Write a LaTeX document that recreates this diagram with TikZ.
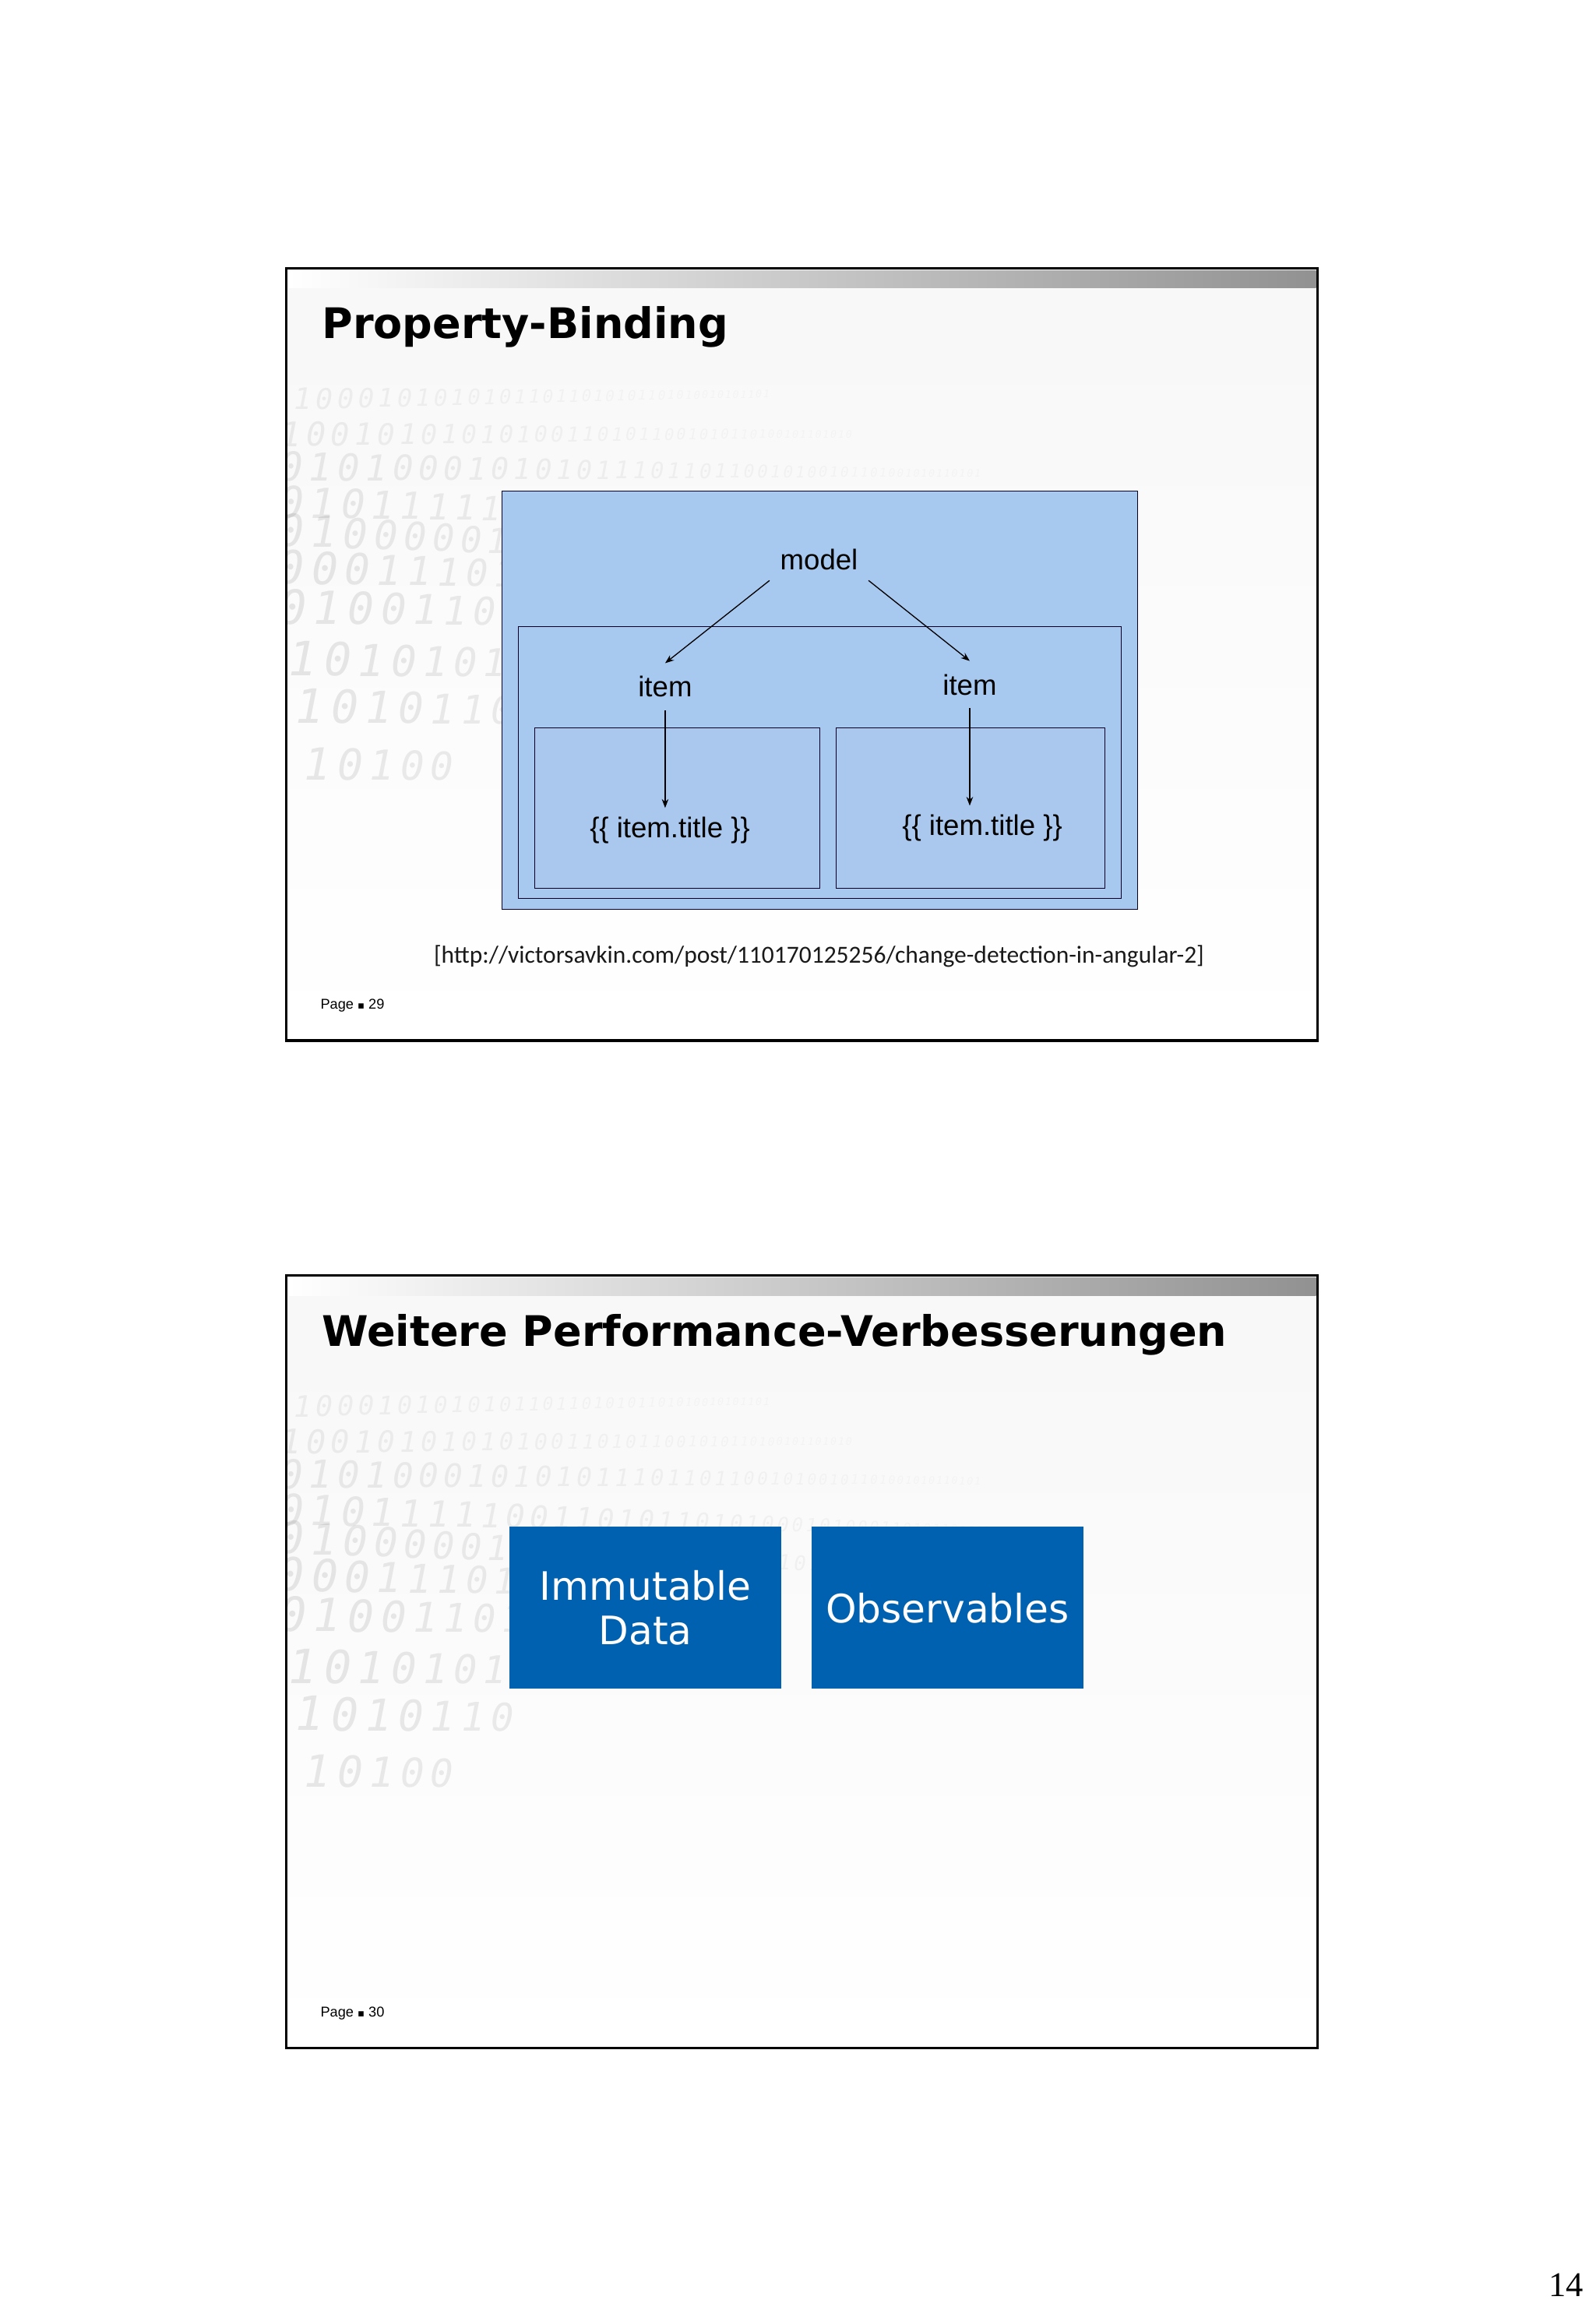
\documentclass[tikz,border=0pt]{standalone}
\usepackage{fontspec}
\usetikzlibrary{arrows.meta}
\newfontfamily\verd{DejaVu Sans}
\newfontfamily\arial{Liberation Sans}
\newfontfamily\cali{Carlito}
\newfontfamily\wmfont{DejaVu Sans Mono}[ItalicFont={DejaVu Sans Mono Oblique}]
\newfontfamily\tim{Liberation Serif}
\definecolor{boxblue}{RGB}{167,201,239}
\definecolor{boxblueb}{RGB}{170,200,238}
\definecolor{tileblue}{RGB}{0,97,176}
\tikzset{
  every node/.style={inner sep=0pt,outer sep=0pt},
  frame/.style={draw=black,line width=1.6pt,minimum width=698pt,minimum height=523pt,anchor=north west,top color=black!3,bottom color=white},
  bar/.style={left color=white,right color=black!43,minimum width=696pt,minimum height=12pt,anchor=north west},
  ttl/.style={font=\verd\bfseries\fontsize{28.5}{30}\selectfont,anchor=west,text=black},
  pg/.style={font=\arial\fontsize{9.6}{11}\selectfont,anchor=west,text=black},
  diag/.style={draw=black!85!blue,line width=.55pt,fill=boxblue,anchor=north west},
  lbl/.style={font=\arial\fontsize{19.3}{22}\selectfont,text=black},
  link/.style={draw=black,line width=.7pt,-{Stealth[length=6pt,width=4.5pt]}},
  tile/.style={fill=tileblue,text=white,minimum width=184pt,minimum height=109.5pt,anchor=north west,align=center,font=\verd\fontsize{26.5}{30}\selectfont},
  wm/.style={font=\wmfont\itshape\fontsize{10}{10}\selectfont,text=black}
}
\newcommand\wmrow[5]{%
  \xdef\wx{#1}\xdef\ws{#3}%
  \foreach \d in {#5}{%
    \pgfmathsetmacro\wy{#2+#4*(\wx-#1)}%
    \pgfmathsetmacro\wsc{\ws/10}%
    \pgfmathsetmacro\wo{max(0.025,0.085*\ws/30)}%
    \node[wm,scale=\wsc,text opacity=\wo] at (\wx,\wy) {\d};
    \pgfmathsetmacro\nx{\wx+0.74*\ws}\xdef\wx{\nx}%
    \pgfmathsetmacro\ns{max(7,\ws*0.965)}\xdef\ws{\ns}%
  }%
}
\newcommand\watermark{%
  \wmrow{205}{89}{20}{-.01}{1,0,0,0,1,0,1,0,1,0,1,0,1,1,0,1,1,0,1,0,1,0,1,1,0,1,0,1,0,0,1,0,1,0,1,1,0,1}
  \wmrow{197}{113}{23}{.0}{1,0,0,1,0,1,0,1,0,1,0,1,0,0,1,1,0,1,0,1,1,0,0,1,0,1,0,1,1,0,1,0,0,1,0,1,1,0,1,0,1,0}
  \wmrow{197}{135}{27}{.01}{0,1,0,1,0,0,0,1,0,1,0,1,0,1,1,1,0,1,1,0,1,1,0,0,1,0,1,0,0,1,0,1,1,0,1,0,0,1,0,1,0,1,1,0,1,0,1}
  \wmrow{197}{159}{29}{.03}{0,1,0,1,1,1,1,1,0,0,1,1,0,1,0,1,1,0,1,0,1,0,0,0,1,0,1,0,0,0,1,1,0,1,0,1,1,0,1,0,0,1,0,1}
  \wmrow{197}{178}{30}{.05}{0,1,0,0,0,0,0,1,0,0,1,0,1,1,0,1,0,0,1,1,0,1,0,1,1,0,0,1,0,1,0,1,1,0,1,0,0,0,1,0,1}
  \wmrow{197}{203}{31}{.03}{0,0,0,1,1,1,0,1,0,0,1,0,1,1,0}
  \wmrow{198}{230}{32}{.02}{0,1,0,0,1,1,0,1}
  \wmrow{205}{265}{32}{.02}{1,0,1,0,1,0,1}
  \wmrow{210}{297}{32}{.02}{1,0,1,0,1,1,0}
  \wmrow{215}{336}{30}{.02}{1,0,1,0,0}
}
\begin{document}
\begin{tikzpicture}[x=1pt,y=-1pt]
\useasboundingbox (0,0) rectangle (1080,1557.2);
\fill[white] (0,0) rectangle (1080,1557.2);

% slide 29
\node[frame] (s1) at (194,181.5) {};
\begin{scope}
  \clip (195,196) rectangle (892,704);
  \begin{scope}[yshift=-181pt]\watermark\end{scope}
\end{scope}
\node[bar] (b1) at (195,183) {};
\node[ttl] (t1) at (218,221.5) {Property-Binding};
\node[diag,minimum width=430pt,minimum height=283pt] (outer) at (340,332.5) {};
\node[diag,minimum width=408pt,minimum height=184.5pt] (mid) at (351,424) {};
\node[diag,fill=boxblueb,minimum width=193pt,minimum height=108.5pt] (cl) at (362,493) {};
\node[diag,fill=boxblueb,minimum width=182pt,minimum height=108.5pt] (cr) at (566,493) {};
\node[lbl,minimum width=67pt,minimum height=28pt] (model) at (554.5,379) {model};
\node[lbl,minimum width=36pt,minimum height=32pt] (il) at (450.3,465) {item};
\node[lbl,minimum width=36pt,minimum height=32pt] (ir) at (656.5,463.5) {item};
\node[lbl,minimum height=30pt] (tl) at (453.5,562) {\{\{ item.title \}\}};
\node[lbl,minimum height=30pt] (tr) at (665,560.5) {\{\{ item.title \}\}};
\draw[link] (model.south west) -- (il.north);
\draw[link] (model.south east) -- (ir.north);
\draw[link] (il.south) -- (il.south |- tl.north);
\draw[link] (ir.south) -- (ir.south |- tr.north);
\node[font=\cali\fontsize{16.6}{20}\selectfont,text=black!90] (src) at (554.5,647.5) {[http://victorsavkin.com/post/110170125256/change-detection-in-angular-2]};
\node[pg] (p1) at (217,681) {Page {\verd\fontsize{7}{9}\selectfont ▪} 29};

% slide 30
\node[frame] (s2) at (194,863.5) {};
\begin{scope}
  \clip (195,878) rectangle (892,1386);
  \begin{scope}[yshift=-863pt]\watermark\end{scope}
\end{scope}
\node[bar] (b2) at (195,865) {};
\node[ttl] (t2) at (218,903.5) {Weitere Performance-Verbesserungen};
\node[tile] (imm) at (345,1033.8) {Immutable\\Data};
\node[tile] (obs) at (549.5,1033.8) {Observables};
\node[pg] (p2) at (217,1363) {Page {\verd\fontsize{7}{9}\selectfont ▪} 30};

\node[font=\tim\fontsize{23.5}{26}\selectfont,text=black,anchor=east] (num) at (1072,1547) {14};
\end{tikzpicture}
\end{document}
